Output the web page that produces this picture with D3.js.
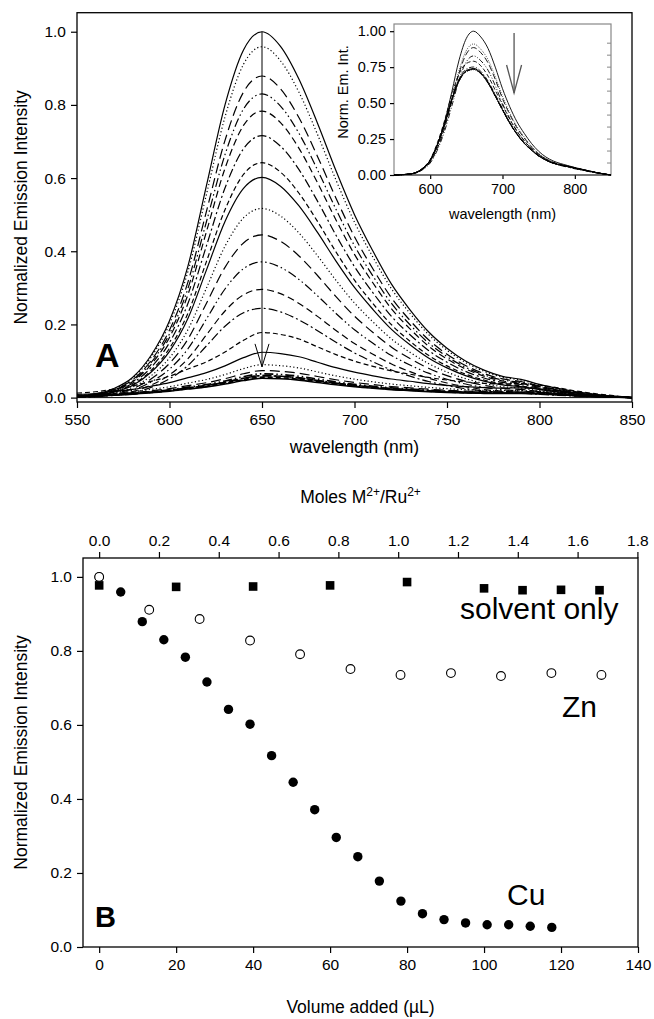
<!DOCTYPE html>
<html>
<head>
<meta charset="utf-8">
<script src="https://cdn.jsdelivr.net/npm/d3@7"></script>
<style>
  body { margin: 0; background: #fff; }
  svg text { font-family: "Liberation Sans", Arial, sans-serif; fill: #000; }
</style>
</head>
<body>
<svg width="654" height="1019"></svg>
<script>
// ---- data ----

// wavelength grid (nm) used for the spectra
const wavelengths = [550, 560, 570, 580, 590, 600, 610, 620, 630, 640, 650, 660, 670, 680, 690, 700,
                     710, 720, 730, 740, 750, 760, 770, 780, 790, 800, 810, 820, 830, 840, 850];

// normalised emission profile of the strong spectra (panel A, top curve)
const shape_high = [0.005, 0.01, 0.025, 0.055, 0.115, 0.21, 0.36, 0.58, 0.80, 0.95, 1.00, 0.96, 0.87, 0.75, 0.62, 0.50,
                    0.40, 0.31, 0.24, 0.18, 0.135, 0.10, 0.075, 0.058, 0.05, 0.036, 0.025, 0.016, 0.009, 0.004, 0.0];

// normalised profile of the quenched spectra (panel A, bottom curves)
const shape_low = [0.07, 0.09, 0.13, 0.18, 0.25, 0.33, 0.44, 0.55, 0.70, 0.88, 1.00, 0.97, 0.90, 0.78, 0.66, 0.56,
                   0.48, 0.41, 0.36, 0.31, 0.27, 0.24, 0.22, 0.21, 0.215, 0.19, 0.15, 0.10, 0.06, 0.03, 0.0];

// inset (Zn titration) profiles
const inset_shape_high = [0.0, 0.002, 0.006, 0.016, 0.046, 0.10, 0.21, 0.37, 0.58, 0.80, 0.95, 1.00, 0.96, 0.88, 0.75, 0.60,
                          0.475, 0.37, 0.29, 0.22, 0.165, 0.125, 0.098, 0.08, 0.066, 0.052, 0.04, 0.028, 0.017, 0.008, 0.0];
const inset_shape_low = [0.0, 0.003, 0.008, 0.022, 0.063, 0.137, 0.285, 0.48, 0.71, 0.89, 0.98, 1.00, 0.96, 0.87, 0.745, 0.615,
                         0.49, 0.385, 0.30, 0.235, 0.18, 0.14, 0.112, 0.094, 0.08, 0.065, 0.05, 0.036, 0.022, 0.01, 0.0];

// panel B series
const cu_volume    = [0, 5.6, 11.2, 16.8, 22.4, 28, 33.6, 39.2, 44.8, 50.4, 56, 61.6, 67.2, 72.8, 78.4, 84, 89.6, 95.2, 100.8, 106.4, 112, 117.6];
const cu_intensity = [1.0, 0.959, 0.879, 0.830, 0.783, 0.716, 0.642, 0.602, 0.517, 0.445, 0.371, 0.296, 0.244, 0.178, 0.124, 0.090, 0.074, 0.065, 0.060, 0.060, 0.056, 0.053];

const zn_volume    = [0, 13, 26.1, 39.2, 52.2, 65.3, 78.3, 91.4, 104.4, 117.5, 130.5];
const zn_intensity = [1.0, 0.911, 0.886, 0.828, 0.791, 0.751, 0.735, 0.740, 0.732, 0.740, 0.735];

const solvent_volume    = [0, 20, 40, 60, 80, 100, 110, 120, 130];
const solvent_intensity = [0.977, 0.973, 0.974, 0.977, 0.986, 0.969, 0.964, 0.965, 0.964];

// ticks
const a_x_ticks = [550, 600, 650, 700, 750, 800, 850];
const a_y_ticks = [0, 0.2, 0.4, 0.6, 0.8, 1.0];
const inset_x_ticks = [600, 700, 800];
const inset_y_ticks = [0, 0.25, 0.5, 0.75, 1.0];
const b_x_ticks = [0, 20, 40, 60, 80, 100, 120, 140];
const b_top_ticks = [0, 0.2, 0.4, 0.6, 0.8, 1.0, 1.2, 1.4, 1.6, 1.8];
const b_y_ticks = [0, 0.2, 0.4, 0.6, 0.8, 1.0];

// line styles repeat in this order
const dash_cycle = [null, "1.2,2.4", "10,5", "9,3,1.5,3,1.5,3", "7,4", "9,3,2,3", "5,3"];

let svg = d3.select("svg");
let tick_font = 15.5, label_font = 17.5, inset_font = 14.5;

// ---------------- panel A ----------------
let xA = d3.scaleLinear().domain([550, 850]).range([77, 632]);
let yA = d3.scaleLinear().domain([-0.012, 1.052]).range([402, 12.7]);

function style_axis(g, font) {
  g.select(".domain").remove();
  g.selectAll(".tick line").attr("stroke", "#000").attr("stroke-width", 1.2);
  g.selectAll(".tick text").attr("font-size", font).attr("fill", "#000")
    .attr("font-family", "Liberation Sans, Arial, sans-serif");
}

let panelA = svg.append("g");

panelA.append("g")
  .attr("transform", "translate(77,0)")
  .call(d3.axisLeft(yA).tickValues(a_y_ticks).tickFormat(d3.format(".1f")).tickSize(6).tickPadding(5))
  .call(g => style_axis(g, tick_font));

panelA.append("g")
  .attr("transform", "translate(0,402)")
  .call(d3.axisBottom(xA).tickValues(a_x_ticks).tickFormat(d3.format("d")).tickSize(6).tickPadding(6))
  .call(g => style_axis(g, tick_font));

// zero baseline
panelA.append("line")
  .attr("x1", xA(550)).attr("x2", xA(850))
  .attr("y1", yA(0)).attr("y2", yA(0))
  .attr("stroke", "#000").attr("stroke-width", 1);

let line_a = d3.line()
  .x((d, i) => xA(wavelengths[i]))
  .y(d => yA(d))
  .curve(d3.curveMonotoneX);

cu_intensity.forEach((peak, i) => {
  let shape = peak >= 0.2 ? shape_high : shape_low;
  let dash = dash_cycle[i % dash_cycle.length];
  panelA.append("path")
    .attr("d", line_a(shape.map(s => s * peak)))
    .attr("fill", "none")
    .attr("stroke", "#000")
    .attr("stroke-width", peak < 0.07 ? 1.6 : 1.2)
    .attr("stroke-dasharray", dash);
});

// arrow
let arrow_x = xA(650);
panelA.append("line")
  .attr("x1", arrow_x).attr("x2", arrow_x)
  .attr("y1", yA(1.0)).attr("y2", yA(0.084))
  .attr("stroke", "#000").attr("stroke-width", 1);
panelA.append("path")
  .attr("d", `M${arrow_x - 7},${yA(0.084) - 23}L${arrow_x},${yA(0.084)}L${arrow_x + 7},${yA(0.084) - 23}`)
  .attr("fill", "none").attr("stroke", "#000").attr("stroke-width", 1);

// frame
panelA.append("rect")
  .attr("x", 77).attr("y", 12.7).attr("width", 632 - 77).attr("height", 402 - 12.7)
  .attr("fill", "none").attr("stroke", "#000").attr("stroke-width", 1.3);

panelA.append("text")
  .attr("x", 95).attr("y", 367)
  .attr("font-size", 34).attr("font-weight", "bold")
  .text("A");

panelA.append("text")
  .attr("transform", "translate(21," + ((12.7 + 402) / 2) + ") rotate(-90)")
  .attr("text-anchor", "middle").attr("dy", "0.35em")
  .attr("font-size", label_font)
  .text("Normalized Emission Intensity");

panelA.append("text")
  .attr("x", (77 + 632) / 2).attr("y", 453)
  .attr("text-anchor", "middle")
  .attr("font-size", label_font)
  .text("wavelength (nm)");

// ---------------- inset ----------------
let xI = d3.scaleLinear().domain([550, 850]).range([394, 611]);
let yI = d3.scaleLinear().domain([0, 1.05]).range([175, 24]);

let inset = svg.append("g");
inset.append("rect")
  .attr("x", 394).attr("y", 24).attr("width", 611 - 394).attr("height", 175 - 24)
  .attr("fill", "#fff").attr("stroke", "#888").attr("stroke-width", 1.2);

inset.append("g")
  .attr("transform", "translate(394,0)")
  .call(d3.axisLeft(yI).tickValues(inset_y_ticks).tickFormat(d3.format(".2f")).tickSize(4).tickPadding(4))
  .call(g => style_axis(g, inset_font));

inset.append("g")
  .attr("transform", "translate(0,175)")
  .call(d3.axisBottom(xI).tickValues(inset_x_ticks).tickFormat(d3.format("d")).tickSize(4).tickPadding(5))
  .call(g => style_axis(g, inset_font));

// small inner ticks on the right edge
inset.selectAll("line.minor")
  .data(d3.range(1, 12).map(k => k / 12))
  .join("line")
    .classed("minor", true)
    .attr("x1", 611).attr("x2", 607)
    .attr("y1", d => yI(d)).attr("y2", d => yI(d))
    .attr("stroke", "#888").attr("stroke-width", 1);

inset.append("line")
  .attr("x1", 394).attr("x2", 611).attr("y1", 175).attr("y2", 175)
  .attr("stroke", "#333").attr("stroke-width", 1.2);

let line_i = d3.line()
  .x((d, i) => xI(wavelengths[i]))
  .y(d => yI(d))
  .curve(d3.curveMonotoneX);

zn_intensity.forEach((peak, i) => {
  let shape = peak >= 0.8 ? inset_shape_high : inset_shape_low;
  let dash = dash_cycle[i % dash_cycle.length];
  inset.append("path")
    .attr("d", line_i(shape.map(s => s * peak)))
    .attr("fill", "none")
    .attr("stroke", "#000")
    .attr("stroke-width", 0.9)
    .attr("stroke-dasharray", dash ? dash.split(",").map(v => v * 0.6).join(",") : null);
});

// inset arrow
let ia_x = xI(716);
inset.append("line")
  .attr("x1", ia_x).attr("x2", ia_x).attr("y1", 33).attr("y2", 93)
  .attr("stroke", "#555").attr("stroke-width", 1.3);
inset.append("path")
  .attr("d", `M${ia_x - 7.5},65L${ia_x},93L${ia_x + 7.5},65`)
  .attr("fill", "none").attr("stroke", "#555").attr("stroke-width", 1.3);

inset.append("text")
  .attr("transform", "translate(343,92) rotate(-90)")
  .attr("text-anchor", "middle").attr("dy", "0.35em")
  .attr("font-size", inset_font)
  .text("Norm. Em. Int.");

inset.append("text")
  .attr("x", (394 + 611) / 2).attr("y", 219)
  .attr("text-anchor", "middle")
  .attr("font-size", inset_font)
  .text("wavelength (nm)");

// ---------------- panel B ----------------
let xB = d3.scaleLinear().domain([-4.2, 140]).range([83, 638]);
let xTop = d3.scaleLinear().domain([-0.054, 1.802]).range([83, 638]);
let yB = d3.scaleLinear().domain([0, 1.051]).range([947, 558]);

let panelB = svg.append("g");

panelB.append("g")
  .attr("transform", "translate(83,0)")
  .call(d3.axisLeft(yB).tickValues(b_y_ticks).tickFormat(d3.format(".1f")).tickSize(6).tickPadding(5))
  .call(g => style_axis(g, tick_font));

panelB.append("g")
  .attr("transform", "translate(0,947)")
  .call(d3.axisBottom(xB).tickValues(b_x_ticks).tickFormat(d3.format("d")).tickSize(6).tickPadding(6))
  .call(g => style_axis(g, tick_font));

panelB.append("g")
  .attr("transform", "translate(0,558)")
  .call(d3.axisTop(xTop).tickValues(b_top_ticks).tickFormat(d3.format(".1f")).tickSize(6).tickPadding(6))
  .call(g => style_axis(g, tick_font));

panelB.append("rect")
  .attr("x", 83).attr("y", 558).attr("width", 638 - 83).attr("height", 947 - 558)
  .attr("fill", "none").attr("stroke", "#000").attr("stroke-width", 1.3);

// Cu (filled circles)
panelB.selectAll("circle.cu")
  .data(cu_volume.map((v, i) => [v, cu_intensity[i]]))
  .join("circle")
    .classed("cu", true)
    .attr("cx", d => xB(d[0])).attr("cy", d => yB(d[1]))
    .attr("r", 4.7).attr("fill", "#000");

// solvent only (filled squares)
panelB.selectAll("rect.solvent")
  .data(solvent_volume.map((v, i) => [v, solvent_intensity[i]]))
  .join("rect")
    .classed("solvent", true)
    .attr("x", d => xB(d[0]) - 4.3).attr("y", d => yB(d[1]) - 4.3)
    .attr("width", 8.6).attr("height", 8.6).attr("fill", "#000");

// Zn (open circles)
panelB.selectAll("circle.zn")
  .data(zn_volume.map((v, i) => [v, zn_intensity[i]]))
  .join("circle")
    .classed("zn", true)
    .attr("cx", d => xB(d[0])).attr("cy", d => yB(d[1]))
    .attr("r", 4.4).attr("fill", "#fff").attr("stroke", "#000").attr("stroke-width", 1.1);

panelB.append("text").attr("x", 460).attr("y", 619).attr("font-size", 30).text("solvent only");
panelB.append("text").attr("x", 562).attr("y", 717).attr("font-size", 30).text("Zn");
panelB.append("text").attr("x", 507).attr("y", 905).attr("font-size", 30).text("Cu");

panelB.append("text")
  .attr("x", 95).attr("y", 927)
  .attr("font-size", 29).attr("font-weight", "bold")
  .text("B");

panelB.append("text")
  .attr("transform", "translate(21," + ((558 + 947) / 2) + ") rotate(-90)")
  .attr("text-anchor", "middle").attr("dy", "0.35em")
  .attr("font-size", label_font)
  .text("Normalized Emission Intensity");

panelB.append("text")
  .attr("x", (83 + 638) / 2).attr("y", 1013)
  .attr("text-anchor", "middle")
  .attr("font-size", label_font)
  .text("Volume added (\u00b5L)");

let moles = panelB.append("text")
  .attr("x", (83 + 638) / 2).attr("y", 503)
  .attr("text-anchor", "middle")
  .attr("font-size", label_font);
moles.append("tspan").text("Moles M");
moles.append("tspan").attr("dy", -7).attr("font-size", 12).text("2+");
moles.append("tspan").attr("dy", 7).text("/Ru");
moles.append("tspan").attr("dy", -7).attr("font-size", 12).text("2+");
</script>
</body>
</html>
